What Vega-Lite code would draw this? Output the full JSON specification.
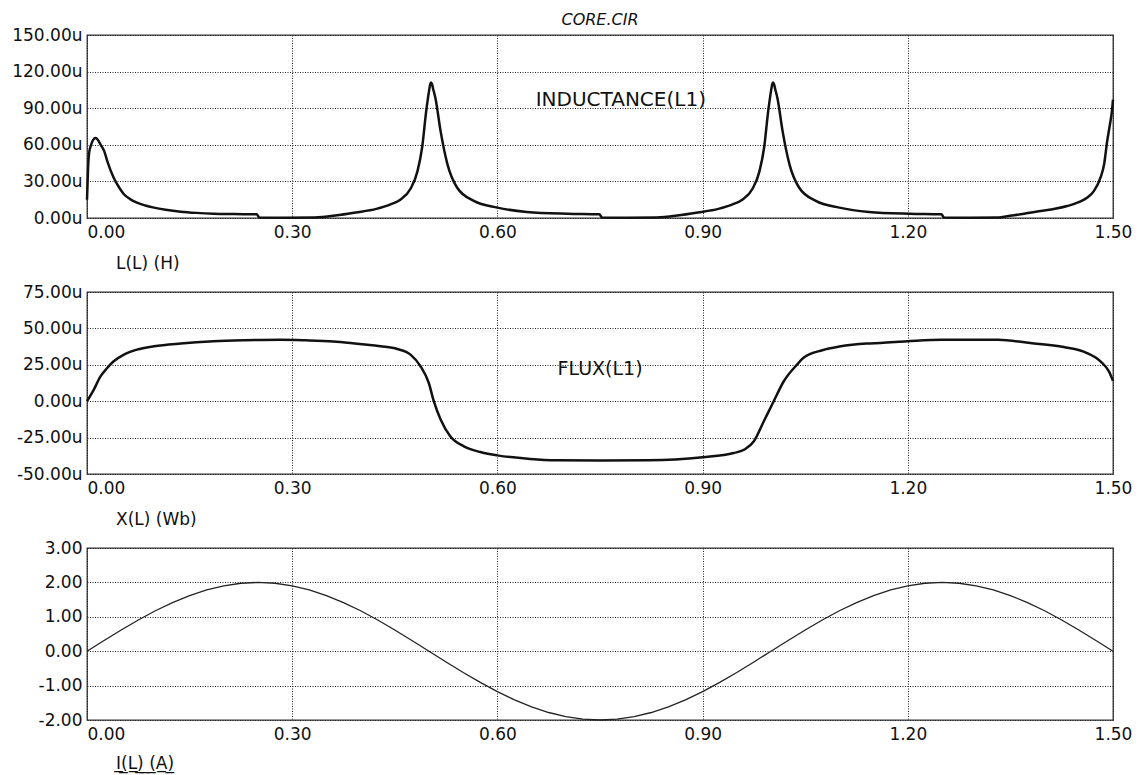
{
  "$schema": "https://vega.github.io/schema/vega-lite/v6.json",
  "background": "white",
  "padding": {"left": 11, "top": 10, "right": 10, "bottom": 2},
  "spacing": 74,
  "bounds": "flush",
  "config": {
    "font": "DejaVu Sans",
    "view": {"stroke": "#333", "strokeWidth": 1.3},
    "axis": {
      "labelFont": "DejaVu Sans",
      "labelFontSize": 17,
      "labelColor": "#111",
      "labelOverlap": false,
      "labelFlush": false,
      "labelBound": false,
      "ticks": false,
      "domain": false,
      "grid": true,
      "gridColor": "#222",
      "gridDash": [1, 1.5],
      "gridWidth": 1,
      "titleFont": "DejaVu Sans",
      "titleFontSize": 17,
      "titleFontWeight": "normal",
      "titleColor": "#111"
    },
    "axisY": {"labelPadding": 5},
    "axisX": {
      "labelPadding": 6,
      "labelAlign": {"condition": {"test": "datum.value === 0", "value": "left"}, "value": "center"},
      "titleAlign": "left",
      "titleBaseline": "middle",
      "titleX": 28.5,
      "titleY": 45
    },
    "line": {"color": "#111", "strokeWidth": 2.5, "interpolate": "monotone"},
    "text": {"color": "#111", "font": "DejaVu Sans"}
  },
  "datasets": {
    "inductance": [
      {"t": 0, "L": 15}, {"t": 0.0015, "L": 40}, {"t": 0.003, "L": 53}, {"t": 0.006, "L": 60},
      {"t": 0.009, "L": 64}, {"t": 0.0125, "L": 65.5}, {"t": 0.016, "L": 64}, {"t": 0.02, "L": 60},
      {"t": 0.025, "L": 55}, {"t": 0.03, "L": 46}, {"t": 0.039, "L": 33}, {"t": 0.047, "L": 25},
      {"t": 0.054, "L": 19.5}, {"t": 0.063, "L": 15.5}, {"t": 0.073, "L": 12.6}, {"t": 0.085, "L": 10.3},
      {"t": 0.098, "L": 8.5}, {"t": 0.115, "L": 6.8}, {"t": 0.137, "L": 5.2}, {"t": 0.16, "L": 4.2},
      {"t": 0.185, "L": 3.5}, {"t": 0.215, "L": 3.2}, {"t": 0.248, "L": 3.0}, {"t": 0.252, "L": 0.4},
      {"t": 0.29, "L": 0.3}, {"t": 0.333, "L": 0.5}, {"t": 0.363, "L": 2.0}, {"t": 0.393, "L": 4.5},
      {"t": 0.423, "L": 7.5}, {"t": 0.443, "L": 11}, {"t": 0.458, "L": 15}, {"t": 0.473, "L": 24},
      {"t": 0.483, "L": 38}, {"t": 0.49, "L": 58}, {"t": 0.496, "L": 88}, {"t": 0.5, "L": 104},
      {"t": 0.5015, "L": 109}, {"t": 0.503, "L": 111}, {"t": 0.5045, "L": 109.5}, {"t": 0.506, "L": 106},
      {"t": 0.5095, "L": 98}, {"t": 0.517, "L": 71},
      {"t": 0.527, "L": 44}, {"t": 0.541, "L": 25}, {"t": 0.5655, "L": 14}, {"t": 0.6, "L": 8.5},
      {"t": 0.643, "L": 5}, {"t": 0.703, "L": 3.5}, {"t": 0.749, "L": 3.0}, {"t": 0.753, "L": 0.4},
      {"t": 0.79, "L": 0.3}, {"t": 0.833, "L": 0.5}, {"t": 0.863, "L": 2.0}, {"t": 0.893, "L": 4.5},
      {"t": 0.923, "L": 7.5}, {"t": 0.943, "L": 11}, {"t": 0.958, "L": 15}, {"t": 0.973, "L": 24},
      {"t": 0.983, "L": 38}, {"t": 0.99, "L": 58}, {"t": 0.996, "L": 88}, {"t": 1.0, "L": 104},
      {"t": 1.0015, "L": 109}, {"t": 1.003, "L": 111}, {"t": 1.0045, "L": 109.5}, {"t": 1.006, "L": 106},
      {"t": 1.0095, "L": 98}, {"t": 1.017, "L": 71},
      {"t": 1.027, "L": 44}, {"t": 1.041, "L": 25}, {"t": 1.0655, "L": 14}, {"t": 1.1, "L": 8.5},
      {"t": 1.143, "L": 5}, {"t": 1.203, "L": 3.5}, {"t": 1.249, "L": 3.0}, {"t": 1.253, "L": 0.4},
      {"t": 1.29, "L": 0.3}, {"t": 1.333, "L": 0.5}, {"t": 1.345, "L": 1.5}, {"t": 1.37, "L": 3.5},
      {"t": 1.394, "L": 5.7}, {"t": 1.415, "L": 7.5}, {"t": 1.433, "L": 9.8}, {"t": 1.45, "L": 13},
      {"t": 1.462, "L": 16.6}, {"t": 1.472, "L": 22}, {"t": 1.4817, "L": 33}, {"t": 1.487, "L": 44},
      {"t": 1.4915, "L": 63}, {"t": 1.495, "L": 75}, {"t": 1.4985, "L": 88}, {"t": 1.5, "L": 97}
    ],
    "flux": [
      {"t": 0, "X": 0}, {"t": 0.01, "X": 8}, {"t": 0.0197, "X": 17}, {"t": 0.0295, "X": 22.8},
      {"t": 0.039, "X": 27.4}, {"t": 0.054, "X": 32}, {"t": 0.073, "X": 35.4}, {"t": 0.098, "X": 37.7},
      {"t": 0.137, "X": 39.6}, {"t": 0.185, "X": 41.1}, {"t": 0.23, "X": 41.8}, {"t": 0.283, "X": 42.2},
      {"t": 0.32, "X": 41.8}, {"t": 0.36, "X": 41}, {"t": 0.385, "X": 40}, {"t": 0.41, "X": 38.8},
      {"t": 0.429, "X": 37.7}, {"t": 0.4535, "X": 35.9}, {"t": 0.473, "X": 32}, {"t": 0.4876, "X": 24},
      {"t": 0.4997, "X": 12.5}, {"t": 0.507, "X": 0}, {"t": 0.517, "X": -12.6}, {"t": 0.531, "X": -24.1},
      {"t": 0.551, "X": -31}, {"t": 0.575, "X": -34.9}, {"t": 0.6, "X": -37.2}, {"t": 0.648, "X": -39.7},
      {"t": 0.687, "X": -40.6}, {"t": 0.75, "X": -40.8}, {"t": 0.82, "X": -40.6}, {"t": 0.86, "X": -40},
      {"t": 0.9, "X": -38.5}, {"t": 0.9456, "X": -35.6}, {"t": 0.962, "X": -33}, {"t": 0.975, "X": -27.5},
      {"t": 0.9895, "X": -13.8}, {"t": 1.004, "X": 0}, {"t": 1.0187, "X": 13.7}, {"t": 1.038, "X": 25.1},
      {"t": 1.048, "X": 30}, {"t": 1.075, "X": 35}, {"t": 1.1, "X": 37.5}, {"t": 1.14, "X": 39.6},
      {"t": 1.16, "X": 40}, {"t": 1.199, "X": 41.1}, {"t": 1.25, "X": 42.2}, {"t": 1.332, "X": 42.2},
      {"t": 1.379, "X": 40}, {"t": 1.428, "X": 37.2}, {"t": 1.462, "X": 33.1}, {"t": 1.4817, "X": 27.4},
      {"t": 1.494, "X": 20.5}, {"t": 1.5, "X": 14}
    ],
    "current": [
      {"t": 0, "I": 0}, {"t": 0.025, "I": 0.3129}, {"t": 0.05, "I": 0.618}, {"t": 0.075, "I": 0.908},
      {"t": 0.1, "I": 1.1756}, {"t": 0.125, "I": 1.4142}, {"t": 0.15, "I": 1.618}, {"t": 0.175, "I": 1.782},
      {"t": 0.2, "I": 1.9021}, {"t": 0.225, "I": 1.9754}, {"t": 0.25, "I": 2}, {"t": 0.275, "I": 1.9754},
      {"t": 0.3, "I": 1.9021}, {"t": 0.325, "I": 1.782}, {"t": 0.35, "I": 1.618}, {"t": 0.375, "I": 1.4142},
      {"t": 0.4, "I": 1.1756}, {"t": 0.425, "I": 0.908}, {"t": 0.45, "I": 0.618}, {"t": 0.475, "I": 0.3129},
      {"t": 0.5, "I": 0}, {"t": 0.525, "I": -0.3129}, {"t": 0.55, "I": -0.618}, {"t": 0.575, "I": -0.908},
      {"t": 0.6, "I": -1.1756}, {"t": 0.625, "I": -1.4142}, {"t": 0.65, "I": -1.618}, {"t": 0.675, "I": -1.782},
      {"t": 0.7, "I": -1.9021}, {"t": 0.725, "I": -1.9754}, {"t": 0.75, "I": -2}, {"t": 0.775, "I": -1.9754},
      {"t": 0.8, "I": -1.9021}, {"t": 0.825, "I": -1.782}, {"t": 0.85, "I": -1.618}, {"t": 0.875, "I": -1.4142},
      {"t": 0.9, "I": -1.1756}, {"t": 0.925, "I": -0.908}, {"t": 0.95, "I": -0.618}, {"t": 0.975, "I": -0.3129},
      {"t": 1.0, "I": 0}, {"t": 1.025, "I": 0.3129}, {"t": 1.05, "I": 0.618}, {"t": 1.075, "I": 0.908},
      {"t": 1.1, "I": 1.1756}, {"t": 1.125, "I": 1.4142}, {"t": 1.15, "I": 1.618}, {"t": 1.175, "I": 1.782},
      {"t": 1.2, "I": 1.9021}, {"t": 1.225, "I": 1.9754}, {"t": 1.25, "I": 2}, {"t": 1.275, "I": 1.9754},
      {"t": 1.3, "I": 1.9021}, {"t": 1.325, "I": 1.782}, {"t": 1.35, "I": 1.618}, {"t": 1.375, "I": 1.4142},
      {"t": 1.4, "I": 1.1756}, {"t": 1.425, "I": 0.908}, {"t": 1.45, "I": 0.618}, {"t": 1.475, "I": 0.3129},
      {"t": 1.5, "I": 0}
    ]
  },
  "vconcat": [
    {
      "title": {"text": "CORE.CIR", "font": "DejaVu Sans", "fontSize": 16, "fontStyle": "italic", "fontWeight": "normal", "color": "#111", "anchor": "middle", "offset": -1.5},
      "width": 1026,
      "height": 183,
      "layer": [
        {
          "data": {"name": "inductance"},
          "mark": {"type": "line"},
          "encoding": {
            "x": {"field": "t", "type": "quantitative", "scale": {"domain": [0, 1.5], "nice": false, "zero": false},
              "axis": {"values": [0, 0.3, 0.6, 0.9, 1.2, 1.5], "format": ".2f", "title": "L(L) (H)", "labelOverlap": false}},
            "y": {"field": "L", "type": "quantitative", "scale": {"domain": [0, 150], "nice": false},
              "axis": {"values": [0, 30, 60, 90, 120, 150], "labelOverlap": false, "labelExpr": "replace(format(datum.value, '.2f'), '\u2212', '-') + 'u'", "title": null}}
          }
        },
        {
          "data": {"values": [{"t": 0.656, "L": 96.7, "label": "INDUCTANCE(L1)"}]},
          "mark": {"type": "text", "align": "left", "baseline": "middle", "fontSize": 20},
          "encoding": {
            "x": {"field": "t", "type": "quantitative",
              "axis": {"values": [0, 0.3, 0.6, 0.9, 1.2, 1.5], "format": ".2f", "title": "L(L) (H)", "labelOverlap": false}},
            "y": {"field": "L", "type": "quantitative",
              "axis": {"values": [0, 30, 60, 90, 120, 150], "labelOverlap": false, "labelExpr": "replace(format(datum.value, '.2f'), '\u2212', '-') + 'u'", "title": null}},
            "text": {"field": "label"}
          }
        }
      ]
    },
    {
      "width": 1026,
      "height": 182,
      "layer": [
        {
          "data": {"name": "flux"},
          "mark": {"type": "line"},
          "encoding": {
            "x": {"field": "t", "type": "quantitative", "scale": {"domain": [0, 1.5], "nice": false, "zero": false},
              "axis": {"values": [0, 0.3, 0.6, 0.9, 1.2, 1.5], "format": ".2f", "title": "X(L) (Wb)", "labelOverlap": false}},
            "y": {"field": "X", "type": "quantitative", "scale": {"domain": [-50, 75], "nice": false},
              "axis": {"values": [-50, -25, 0, 25, 50, 75], "labelOverlap": false, "labelExpr": "replace(format(datum.value, '.2f'), '\u2212', '-') + 'u'", "title": null}}
          }
        },
        {
          "data": {"values": [{"t": 0.688, "X": 22.3, "label": "FLUX(L1)"}]},
          "mark": {"type": "text", "align": "left", "baseline": "middle", "fontSize": 19},
          "encoding": {
            "x": {"field": "t", "type": "quantitative",
              "axis": {"values": [0, 0.3, 0.6, 0.9, 1.2, 1.5], "format": ".2f", "title": "X(L) (Wb)", "labelOverlap": false}},
            "y": {"field": "X", "type": "quantitative",
              "axis": {"values": [-50, -25, 0, 25, 50, 75], "labelOverlap": false, "labelExpr": "replace(format(datum.value, '.2f'), '\u2212', '-') + 'u'", "title": null}},
            "text": {"field": "label"}
          }
        }
      ]
    },
    {
      "width": 1026,
      "height": 172,
      "data": {"name": "current"},
      "mark": {"type": "line", "strokeWidth": 1.3, "color": "#222", "interpolate": "linear"},
      "encoding": {
        "x": {"field": "t", "type": "quantitative", "scale": {"domain": [0, 1.5], "nice": false, "zero": false},
          "axis": {"values": [0, 0.3, 0.6, 0.9, 1.2, 1.5], "format": ".2f", "labelOverlap": false, "titleY": 43, "title": "I\u0332(\u0332L\u0332)\u0332 \u0332(\u0332A\u0332)\u0332"}},
        "y": {"field": "I", "type": "quantitative", "scale": {"domain": [-2, 3], "nice": false},
          "axis": {"values": [-2, -1, 0, 1, 2, 3], "labelOverlap": false, "labelExpr": "replace(format(datum.value, '.2f'), '\u2212', '-')", "title": null}}
      }
    }
  ]
}
